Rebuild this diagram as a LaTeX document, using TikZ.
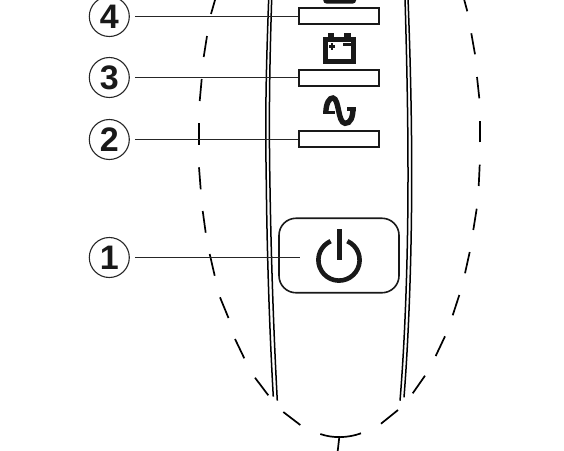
\documentclass[tikz,border=0pt]{standalone}
\usepackage{fontspec}
\setmainfont{Liberation Sans}
\tikzset{
  numcircle/.style={circle,draw=black!85,line width=1.1pt,minimum size=40pt,inner sep=0pt,font=\fontsize{34}{34}\selectfont\bfseries,text=black!90},
  slotbox/.style={draw=black!90,fill=white,line width=2pt,minimum width=80pt,minimum height=16.5pt,inner sep=0pt},
  powerbox/.style={draw=black!90,line width=1.6pt,rounded corners=17pt,minimum width=120pt,minimum height=74.5pt,inner sep=0pt},
  leader/.style={draw=black!85,line width=1.8pt,shorten <=5pt},
  bodyline/.style={draw=black,line width=1.5pt},
  dashseg/.style={draw=black,line width=1.7pt},
  iconfill/.style={fill=black!90,draw=none},
  iconstroke/.style={draw=black!90,line cap=butt}
}
\begin{document}
\begin{tikzpicture}[x=1pt,y=-1pt]
\path[clip] (0,0) rectangle (564,450);
% casing lines
\draw[bodyline] (268.7,-2) .. controls (266.5,60) and (265,110) .. (266.2,175) .. controls (267,260) and (270,340) .. (273.3,396.7);
\draw[bodyline] (271.7,-2) .. controls (269.8,60) and (268.8,110) .. (269.8,175) .. controls (271,260) and (274,340) .. (277.3,400.7);
\draw[bodyline] (405,-2) .. controls (406.5,50) and (408,110) .. (408,175) .. controls (408,260) and (405,340) .. (400,400.7);
\draw[bodyline] (408,-2) .. controls (410,50) and (411.7,110) .. (411.7,175) .. controls (411.7,260) and (408.5,340) .. (404,397.3);
% dashed outline
\foreach \a/\b/\c/\d in {215.3/-1/211/14, 207/36/203.7/57, 201.7/79/199.7/101, 198.7/123/198.7/145, 199/167.3/200.7/189.3, 202.7/211/205.7/232.7, 209.7/254/214.7/275.7, 220/297.3/228.5/318, 235/339/244.3/358.3, 255/377.7/268.3/395.3, 283.3/412/300.3/425, 381/423.7/398/410, 412.7/393.3/425/375.7, 435.7/356/445/336.3, 452.7/315.3/459.3/295, 465/273.3/469.7/252, 473.3/230/476.7/208.7, 478.7/186/479.7/164.7, 480.3/142.3/480.3/120.7, 479.3/98.3/477/77, 475/54.3/471.3/33.3, 467.3/11.3/464/-1}
  \draw[dashseg] (\a,\b) -- (\c,\d);
\draw[dashseg] (320.3,434) .. controls (333,438.5) and (348,438) .. (361,433.3);
\draw[dashseg] (339.3,437) -- (337.7,451);
% number circles and slots
\node[numcircle] (n4) at (109.3,16.5) {4};
\node[numcircle] (n3) at (109.3,77.5) {3};
\node[numcircle] (n2) at (109.3,139.5) {2};
\node[numcircle] (n1) at (109.3,257.5) {1};
\node[slotbox] (s4) at (339,16.2) {};
\node[slotbox] (s3) at (339,77.8) {};
\node[slotbox] (s2) at (339,139.2) {};
\node[powerbox] (pw) at (339,255.5) {};
\coordinate (pwin) at (300,257.5);
\draw[leader] (n4.east) -- (n4.east -| s4.west);
\draw[leader] (n3.east) -- (n3.east -| s3.west);
\draw[leader] (n2.east) -- (n2.east -| s2.west);
\draw[leader] (n1.east) -- (pwin);
% top icon, cut by the edge
\fill[iconfill,rounded corners=3pt] (323.3,-6) rectangle (356,3.5);
% battery icon
\fill[iconfill] (322.7,37.3) rectangle (356,63.5);
\fill[iconfill] (328,33.3) rectangle (334.2,38);
\fill[iconfill] (344.2,33.3) rectangle (350.9,38);
\fill[white] (327.8,42) rectangle (351.2,58.8);
\fill[iconfill] (329.3,45) rectangle (334.7,47.8);
\fill[iconfill] (330.7,43) rectangle (333.3,50);
\fill[iconfill] (343.3,43) rectangle (350.9,45.8);
% wave icon
\draw[iconstroke,line width=5.4pt] (325.8,113) .. controls (326,103) and (329.5,97.5) .. (333,98) .. controls (339.5,99) and (337.5,122.5) .. (345,123.3) .. controls (350.5,123.8) and (353,117) .. (353,108);
\fill[iconfill] (322.7,110.5) rectangle (335,114.3);
\fill[iconfill] (347,106.8) rectangle (356.3,110.5);
% power symbol
\draw[draw=black!90,line width=4.6pt] (339,260) ++(-66:20.6) arc[start angle=-66,end angle=246,radius=20.6];
\fill[iconfill] (336.5,229) rectangle (341.5,260);
\end{tikzpicture}
\end{document}
